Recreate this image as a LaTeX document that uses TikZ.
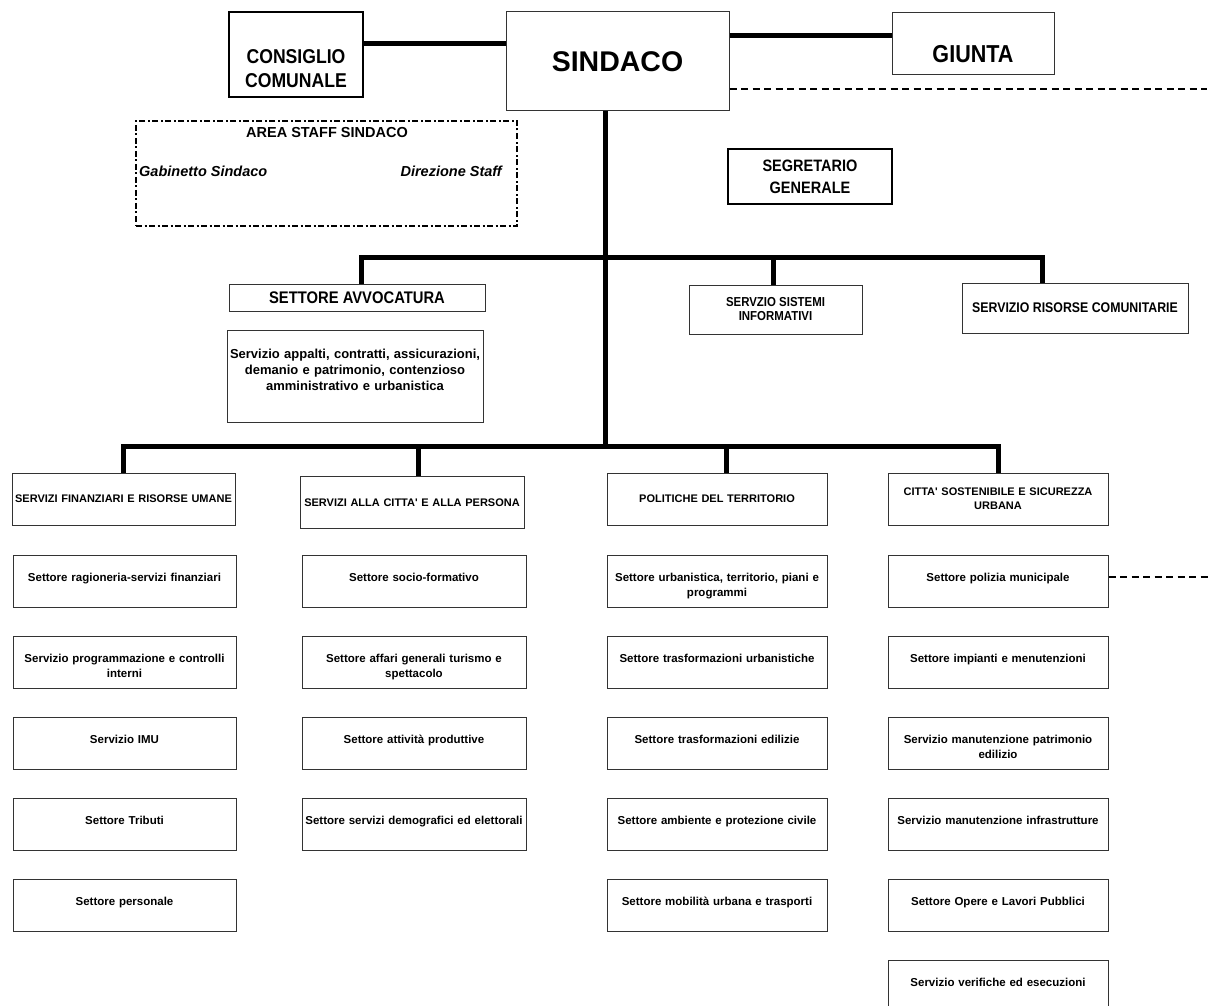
\documentclass[tikz,border=0pt]{standalone}
\usepackage{fontspec}
\newfontfamily\arial{Liberation Sans}
\newfontfamily\arialn{Liberation Sans}[FakeStretch=0.88]
\usepackage{tikz}
\tikzset{box/.style={draw=black!80, line width=1pt, rectangle, inner sep=0pt, align=center, font=\arial\bfseries},
  head/.style={box, text width=#1, minimum height=52pt, font=\arial\bfseries\fontsize{11}{14}\selectfont},
  sub/.style={box, text width=#1, text height=26pt, text depth=26pt, font=\arial\bfseries\fontsize{11.5}{15}\selectfont},
  link/.style={line width=5pt},
  dotline/.style={line width=2.5pt, dash pattern=on 7pt off 4.5pt}}

\begin{document}
\begin{tikzpicture}[x=1pt, y=-1pt]
  \useasboundingbox (0,0) rectangle (1210,1006);
  \node [box, draw=black, line width=2.5pt, text width=134pt, text height=51.5pt, text depth=33.5pt, font=\arialn\bfseries\fontsize{20}{24}\selectfont] (cc) at (296,54.5) {CONSIGLIO\\COMUNALE};
  \node [box, minimum width=223pt, minimum height=99pt, font=\arial\bfseries\fontsize{28.5}{34}\selectfont] (sind) at (617.5,61.5) {SINDACO};
  \node [box, text width=162pt, text height=50pt, text depth=12pt, font=\arialn\bfseries\fontsize{24.5}{28}\selectfont] (giu) at (973,44) {GIUNTA};
  \node [box, draw=black, line width=2pt, minimum width=164pt, minimum height=55pt, font=\arialn\bfseries\fontsize{16.5}{22}\selectfont] (seg) at (810,176.5) {SEGRETARIO\\GENERALE};
  \node [draw, line width=2pt, dash pattern=on 6pt off 2.5pt on 2pt off 2.5pt, minimum width=381pt, minimum height=105pt, inner sep=0pt] (staff) at (326.5,173.5) {};
  \node [inner sep=0pt, font=\arial\bfseries\fontsize{14.5}{18}\selectfont] (stafft) at (327,133) {AREA STAFF SINDACO};
  \node [inner sep=0pt, anchor=west, font=\arial\bfseries\itshape\fontsize{14.5}{18}\selectfont] (gab) at (139,171) {Gabinetto Sindaco};
  \node [inner sep=0pt, anchor=east, font=\arial\bfseries\itshape\fontsize{14.5}{18}\selectfont] (dir) at (502,171) {Direzione Staff};
  \node [box, minimum width=256pt, minimum height=27pt, font=\arialn\bfseries\fontsize{16.8}{18}\selectfont] (avv) at (357,297.5) {SETTORE AVVOCATURA};
  \node [box, text width=256pt, text height=28pt, text depth=64pt, font=\arial\bfseries\fontsize{13}{16}\selectfont] (app) at (355,376) {Servizio appalti, contratti, assicurazioni,\\demanio e patrimonio, contenzioso\\amministrativo e urbanistica};
  \node [box, minimum width=173pt, minimum height=49pt, font=\arialn\bfseries\fontsize{13}{14}\selectfont] (sis) at (775.5,309.5) {SERVZIO SISTEMI\\INFORMATIVI};
  \node [box, minimum width=226pt, minimum height=50pt, font=\arialn\bfseries\fontsize{14}{15}\selectfont] (ris) at (1075,308) {SERVIZIO RISORSE COMUNITARIE};
  \node [head=223pt] (fin) at (123.5,499) {SERVIZI FINANZIARI E RISORSE UMANE};
  \node [head=224pt] (scc) at (412,502.5) {SERVIZI ALLA CITTA' E ALLA PERSONA};
  \node [head=220pt] (pol) at (717,499) {POLITICHE DEL TERRITORIO};
  \node [head=220pt] (cs) at (998,499) {CITTA' SOSTENIBILE E SICUREZZA\\URBANA};
  \foreach \t [count=\i] in {Settore ragioneria-servizi finanziari, {Servizio programmazione e controlli\\interni}, Servizio IMU, Settore Tributi, Settore personale}
    \node [sub=223pt] (fin\i) at (124.5,500+81*\i) {\t};
  \foreach \t [count=\i] in {Settore socio-formativo, {Settore affari generali turismo e\\spettacolo}, Settore attività produttive, Settore servizi demografici ed elettorali}
    \node [sub=224pt] (scc\i) at (414,500+81*\i) {\t};
  \foreach \t [count=\i] in {{Settore urbanistica, territorio, piani e\\programmi}, Settore trasformazioni urbanistiche, Settore trasformazioni edilizie, Settore ambiente e protezione civile, Settore mobilità urbana e trasporti}
    \node [sub=220pt] (pol\i) at (717,500+81*\i) {\t};
  \foreach \t [count=\i] in {Settore polizia municipale, Settore impianti e menutenzioni, {Servizio manutenzione patrimonio\\edilizio}, Servizio manutenzione infrastrutture, Settore Opere e Lavori Pubblici, Servizio verifiche ed esecuzioni}
    \node [sub=220pt] (cs\i) at (998,500+81*\i) {\t};
  \coordinate (rim1) at (1207,89);
  \coordinate (rim2) at (1210,577);
  \draw [link] (cc.east |- 0,44) -- (sind.west |- 0,44);
  \draw [link] (sind.east |- 0,36) -- (giu.west |- 0,36);
  \draw [dotline] (sind.east |- rim1) -- (rim1);
  \draw [dotline] (cs1.east |- rim2) -- (rim2);
  \draw [link] (sind.south -| 605,0) -- (605,446);
  \draw [link] (avv.north -| 361,0) -- (361,257) -- (1042,257) -- (ris.north -| 1042,0);
  \draw [link] (sis.north -| 773,0) -- (773,257);
  \draw [link] (fin.north) -- (fin.north |- 0,446) -- (cs.north |- 0,446) -- (cs.north);
  \foreach \n/\x in {scc/418, pol/726}
    \draw [link] (\n.north -| \x,0) -- (\x,446);
\end{tikzpicture}
\end{document}
